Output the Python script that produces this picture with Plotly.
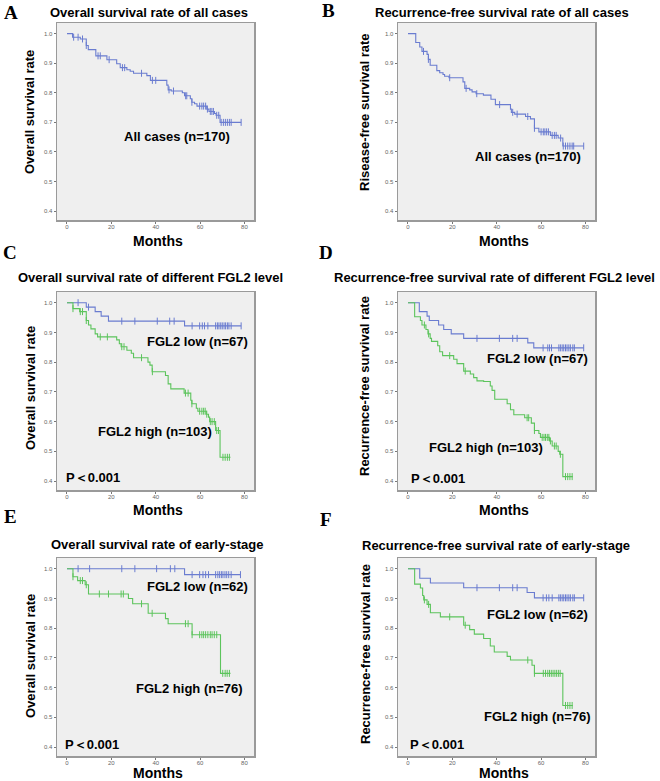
import numpy as np
import plotly.graph_objects as go

# ---------------- data ----------------
A_t = [0, 2.5, 6, 8.7, 9.6, 13, 18, 22.4, 24, 27, 28.5, 30, 36, 37.6, 45, 45.6, 47, 52, 53, 55.6, 56.3, 57.5, 58.6, 63, 64, 66.5, 67.2, 69]
A_s = [1.0, 0.988, 0.982, 0.96, 0.946, 0.925, 0.912, 0.898, 0.885, 0.878, 0.873, 0.866, 0.858, 0.842, 0.826, 0.81, 0.806, 0.80, 0.79, 0.78, 0.768, 0.763, 0.755, 0.745, 0.737, 0.73, 0.724, 0.70]
A_cens = [3, 5, 7, 8.7, 14, 15, 19, 25, 26, 33.6, 38.5, 40, 46, 48, 53.5, 54, 56.3, 59.8, 60.8, 61.6, 62.5, 63.3, 64.6, 65.3, 66, 67.5, 68.4, 69.5, 70.5, 71.4, 72.3, 73.2, 74, 78.5]
A_end = 78.5

B_t = [0, 3.5, 5.3, 6.3, 8.6, 9.2, 10, 13, 14.3, 15.8, 16.5, 18.5, 24.8, 25.6, 27.8, 28.9, 30.7, 34, 37.4, 39.4, 46.2, 46.6, 48.1, 53, 55.2, 57, 59, 64.2, 67.7, 69.8]
B_s = [1.0, 0.97, 0.955, 0.94, 0.93, 0.913, 0.893, 0.875, 0.868, 0.862, 0.856, 0.851, 0.837, 0.815, 0.81, 0.803, 0.797, 0.792, 0.778, 0.76, 0.745, 0.734, 0.728, 0.72, 0.712, 0.68, 0.668, 0.656, 0.647, 0.62]
B_cens = [7, 9.2, 18.8, 26.2, 31, 41.3, 47.2, 49.2, 54, 57, 60, 61, 61.7, 62.5, 63.3, 65, 66, 66.8, 68.8, 70, 71, 72, 73, 74, 74.7, 79.2]
B_end = 79.2

C_low_t = [0, 8.7, 12.7, 15.4, 18.7, 53]
C_low_s = [1.0, 0.985, 0.97, 0.955, 0.938, 0.922]
C_low_cens = [5, 9.7, 24.7, 30.6, 40.7, 46.3, 48.3, 56.4, 59.8, 61, 62, 63.5, 67, 67.8, 68.5, 69.3, 70, 70.8, 71.5, 72.3, 73, 74, 78.5]
C_low_end = 78.5
C_high_t = [0, 2.7, 5.7, 8.7, 9.7, 10.8, 12.7, 13.8, 22.4, 23.6, 24.4, 27, 29, 30, 36.5, 37.4, 38.4, 44.4, 45.6, 46.8, 52.8, 55.8, 56.3, 58.3, 59, 62.8, 63.8, 64.3, 67, 69]
C_high_s = [1.0, 0.98, 0.97, 0.94, 0.925, 0.912, 0.895, 0.885, 0.875, 0.862, 0.852, 0.84, 0.83, 0.815, 0.80, 0.79, 0.768, 0.755, 0.727, 0.71, 0.696, 0.672, 0.66, 0.645, 0.635, 0.625, 0.615, 0.60, 0.57, 0.48]
C_high_cens = [2.7, 6, 7, 8.7, 15, 18.2, 24.7, 25.7, 33.6, 38.5, 53.4, 54.6, 56.3, 59.8, 60.8, 61.6, 62.3, 63, 64.6, 65.4, 66.4, 67.5, 68.3, 70.3, 71.3, 72.3, 73.2]
C_high_end = 73.7

D_low_t = [0, 5.1, 8.6, 9.6, 13.8, 16.1, 19.5, 25.1, 54, 56.7]
D_low_s = [1.0, 0.97, 0.955, 0.94, 0.925, 0.91, 0.895, 0.88, 0.865, 0.848]
D_low_cens = [31.1, 41.2, 47.2, 49.2, 60.9, 63, 63.8, 64.7, 68, 68.7, 69.5, 70.2, 71, 71.7, 72.5, 73.2, 74.3, 75, 79.2]
D_low_end = 79.2
D_high_t = [0, 3, 5.6, 6.3, 8.1, 9, 10, 10.6, 13.4, 14.3, 15.6, 20.6, 22.1, 25.1, 28.1, 29.6, 31.1, 34.1, 37.1, 37.9, 39.1, 44.7, 46.2, 47.7, 52.6, 55.6, 57, 59, 59.7, 63.8, 65, 67.7, 68.4, 69.8]
D_high_s = [1.0, 0.953, 0.94, 0.925, 0.91, 0.895, 0.88, 0.87, 0.855, 0.835, 0.822, 0.81, 0.795, 0.77, 0.76, 0.748, 0.737, 0.735, 0.72, 0.705, 0.675, 0.66, 0.64, 0.623, 0.613, 0.595, 0.57, 0.56, 0.547, 0.535, 0.518, 0.50, 0.49, 0.415]
D_high_cens = [7.4, 9.3, 18.8, 25.8, 53.7, 54.4, 57, 60.5, 61.3, 62, 62.8, 63.5, 64.2, 66, 66.8, 68.7, 71, 72, 73, 74]
D_high_end = 74.3

E_low_t = [0, 53]
E_low_s = [1.0, 0.98]
E_low_cens = [5, 10.2, 24.7, 30.6, 40.4, 46.6, 48.6, 56.4, 59.8, 61.3, 62.5, 63.8, 67, 68, 68.8, 69.6, 70.3, 71.2, 72, 72.9, 74, 78.2]
E_low_end = 78.2
E_high_t = [0, 2.7, 4.8, 8.2, 9.7, 27.7, 29.6, 36.6, 44.4, 45.6, 56.4, 69.2]
E_high_s = [1.0, 0.973, 0.96, 0.946, 0.915, 0.90, 0.882, 0.85, 0.832, 0.815, 0.778, 0.648]
E_high_cens = [2.7, 6, 7, 8.7, 14.6, 18.7, 24.4, 25.4, 33.6, 38.4, 53.4, 54.6, 56.4, 59.8, 60.8, 61.6, 62.5, 63.5, 64.6, 65.4, 66.4, 67.5, 70.2, 71.3, 72.2, 73.2]
E_high_end = 73.7

F_low_t = [0, 5.3, 10.1, 25.1, 53.7, 57]
F_low_s = [1.0, 0.968, 0.952, 0.936, 0.92, 0.902]
F_low_cens = [31.1, 41.2, 47.2, 49.2, 60.9, 62.4, 63.5, 65, 68, 68.7, 69.5, 70.2, 71, 71.7, 72.5, 73.2, 74.3, 75, 79.2]
F_low_end = 79.2
F_high_t = [0, 3, 5.6, 6.6, 7.1, 8.6, 10.1, 14.6, 25.1, 27.8, 29.9, 34.1, 37.1, 38.9, 44.7, 46.2, 55.9, 57, 69.8]
F_high_s = [1.0, 0.948, 0.935, 0.91, 0.895, 0.88, 0.852, 0.838, 0.81, 0.795, 0.78, 0.765, 0.74, 0.72, 0.705, 0.693, 0.675, 0.648, 0.54]
F_high_cens = [7.4, 9.3, 18.8, 25.8, 54, 57, 61, 62, 63, 63.8, 64.6, 65.4, 66.2, 67, 67.8, 68.6, 71, 72, 73, 74]
F_high_end = 74.3

x_ticks = [0, 20, 40, 60, 80]
y_ticks = [0.4, 0.5, 0.6, 0.7, 0.8, 0.9, 1.0]

titles = ["Overall survival rate of all cases",
          "Recurrence-free survival rate of all cases",
          "Overall survival rate of different FGL2 level",
          "Recurrence-free survival rate of different FGL2 level",
          "Overall survival rate of early-stage",
          "Recurrence-free survival rate of early-stage"]
ytitles = ["Overall survival rate", "Risease-free survival rate",
           "Overall survival rate", "Recurrence-free survival rate",
           "Overall survival rate", "Recurrence-free survival rate"]
letters = ["A", "B", "C", "D", "E", "F"]

BLUE = "#6a7cd0"
GREEN = "#5cc45c"

W, H = 660, 781

def px(x):
    return x / W

def py(y):
    return 1 - y / H

# panel boxes in pixels: (left, right, top, bottom)
boxes = [(57, 254, 23, 220), (398, 595, 23, 220),
         (57, 254, 292, 490), (398, 595, 292, 490),
         (57, 254, 558, 756), (398, 595, 558, 756)]

fig = go.Figure()

def add_km(idx, t, s, cens, end, color):
    ax = "" if idx == 0 else str(idx + 1)
    xs = list(t) + [end]
    ys = list(s) + [s[-1]]
    fig.add_trace(go.Scatter(x=xs, y=ys, mode="lines", line=dict(color=color, width=1.1, shape="hv"),
                             xaxis="x" + ax, yaxis="y" + ax, showlegend=False, hoverinfo="skip"))
    tt = np.array(t)
    ss = np.array(s)
    cy = ss[np.searchsorted(tt, np.array(cens), side="right") - 1]
    fig.add_trace(go.Scatter(x=cens, y=cy, mode="markers",
                             marker=dict(symbol="line-ns", size=5, line=dict(color=color, width=1)),
                             xaxis="x" + ax, yaxis="y" + ax, showlegend=False, hoverinfo="skip"))

add_km(0, A_t, A_s, A_cens, A_end, BLUE)
add_km(1, B_t, B_s, B_cens, B_end, BLUE)
add_km(2, C_low_t, C_low_s, C_low_cens, C_low_end, BLUE)
add_km(2, C_high_t, C_high_s, C_high_cens, C_high_end, GREEN)
add_km(3, D_low_t, D_low_s, D_low_cens, D_low_end, BLUE)
add_km(3, D_high_t, D_high_s, D_high_cens, D_high_end, GREEN)
add_km(4, E_low_t, E_low_s, E_low_cens, E_low_end, BLUE)
add_km(4, E_high_t, E_high_s, E_high_cens, E_high_end, GREEN)
add_km(5, F_low_t, F_low_s, F_low_cens, F_low_end, BLUE)
add_km(5, F_high_t, F_high_s, F_high_cens, F_high_end, GREEN)

layout = dict(width=W, height=H, margin=dict(l=0, r=0, t=0, b=0),
              paper_bgcolor="white", plot_bgcolor="#efefef",
              font=dict(family="Liberation Sans, Arial, sans-serif", color="black"),
              showlegend=False, hovermode=False)

axis_common = dict(showline=True, mirror=True, linecolor="#9a9a9a", linewidth=1.5,
                   ticks="outside", ticklen=2, tickcolor="#777", tickwidth=1,
                   showgrid=False, zeroline=False,
                   tickfont=dict(size=6, color="#666"))

for i, (l, r, t, b) in enumerate(boxes):
    ax = "" if i == 0 else str(i + 1)
    layout["xaxis" + ax] = dict(axis_common, domain=[px(l), px(r)], range=[-4.5, 84.3],
                                tickvals=x_ticks, anchor="y" + ax, ticklabelstandoff=-2)
    layout["yaxis" + ax] = dict(axis_common, domain=[py(b), py(t)], range=[0.37, 1.036],
                                tickvals=y_ticks, tickformat=".1f", anchor="x" + ax)

fig.update_layout(**layout)

ann = []
def text(x, y, s, size=13, xanchor="center", angle=0, family=None):
    d = dict(x=px(x), y=py(y), xref="paper", yref="paper", text=s, showarrow=False,
             xanchor=xanchor, yanchor="middle", textangle=angle, borderpad=0,
             font=dict(size=size, color="black", family=family or "Liberation Sans, Arial, sans-serif"))
    ann.append(d)

title_pos = [(149, 12), (502, 12), (150, 278), (494, 278), (157, 544), (496, 545)]
ytitle_pos = [(30, 112), (365, 112), (30, 388), (365, 386), (30, 656), (365, 654)]
months_pos = [(158, 241), (504, 241), (158, 510), (504, 510), (158, 773), (504, 773)]
letter_pos = [(11, 12), (328, 11), (10, 252), (326, 252), (10, 516), (326, 519)]

for i in range(6):
    text(*title_pos[i], "<b>" + titles[i] + "</b>", size=13)
    text(*ytitle_pos[i], "<b>" + ytitles[i] + "</b>", size=13, angle=-90)
    text(*months_pos[i], "<b>Months</b>", size=14)
    text(*letter_pos[i], "<b>" + letters[i] + "</b>", size=19,
         family="Liberation Serif, Times New Roman, serif")

# curve labels
text(177, 136, "<b>All cases (n=170)</b>")
text(528, 157, "<b>All cases (n=170)</b>")
text(197, 341, "<b>FGL2 low (n=67)</b>")
text(155, 431, "<b>FGL2 high (n=103)</b>")
text(65, 477, "<b>P＜0.001</b>", xanchor="left")
text(537, 359, "<b>FGL2 low (n=67)</b>")
text(486, 447, "<b>FGL2 high (n=103)</b>")
text(410, 478, "<b>P＜0.001</b>", xanchor="left")
text(197, 586, "<b>FGL2 low (n=62)</b>")
text(189, 688, "<b>FGL2 high (n=76)</b>")
text(64, 744, "<b>P＜0.001</b>", xanchor="left")
text(537, 614, "<b>FGL2 low (n=62)</b>")
text(537, 716, "<b>FGL2 high (n=76)</b>")
text(409, 744, "<b>P＜0.001</b>", xanchor="left")

fig.update_layout(annotations=ann)
fig.write_html("out.html",
               config={"displayModeBar": False, "staticPlot": True},
               post_script="document.body.style.margin='0px';document.body.style.overflow='hidden';")
